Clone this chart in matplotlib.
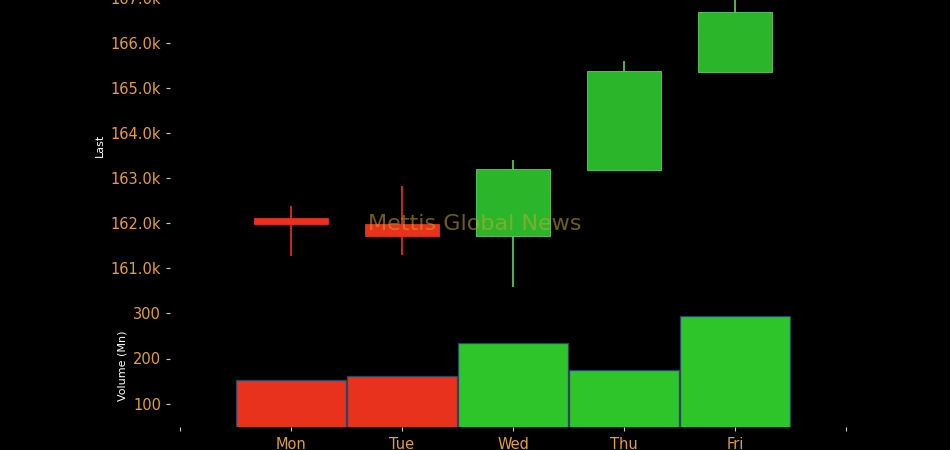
import matplotlib
matplotlib.use("Agg")
import matplotlib.pyplot as plt
from matplotlib.ticker import FuncFormatter, FixedLocator

days = ["Mon", "Tue", "Wed", "Thu", "Fri"]
opens = [162100, 161980, 161700, 163180, 165360]
highs = [162370, 162820, 163400, 165600, 167100]
lows = [161270, 161290, 160580, 163180, 165360]
closes = [161980, 161700, 163200, 165380, 166690]
volumes = [153, 162, 234, 175, 293]

price_ticks = [161000, 162000, 163000, 164000, 165000, 166000, 167000]
volume_ticks = [100, 200, 300]
x_tick_labels = [""] + days + [""]

RED = "#e8321e"
GREEN_BODY = "#2ab52a"
GREEN_VOL = "#2ec52a"
GREEN_WICK = "#5fcf5f"
TICK_COL = "#e0a040"

W, H = 950, 450
fig = plt.figure(figsize=(9.5, 4.5), dpi=100, facecolor="black")

def px_axes(left, top, right, bottom):
    return fig.add_axes([left / W, 1 - bottom / H, (right - left) / W, (bottom - top) / H])

ax_p = px_axes(170, -10, 860, 300)
ax_v = px_axes(170, 305, 860, 427)

xs = list(range(len(days)))
xlim = (-1 - 10 / 111, 5 + 14 / 111)

for ax in (ax_p, ax_v):
    ax.set_facecolor("black")
    for s in ax.spines.values():
        s.set_visible(False)
    ax.set_xlim(*xlim)
    ax.tick_params(axis="y", colors="#cccccc", labelcolor=TICK_COL, labelsize=10.5, length=3, width=0.8)

# price
ax_p.set_ylim(162000 - (300 - 223) / 0.045, 162000 + (223 + 10) / 0.045)
for x, o, h, l, c in zip(xs, opens, highs, lows, closes):
    up = c >= o
    col = GREEN_BODY if up else RED
    wcol = GREEN_WICK if up else RED
    ax_p.vlines(x, l, h, color=wcol, linewidth=1.2, zorder=1)
    ax_p.bar(x, abs(c - o), bottom=min(o, c), width=0.66, color=col,
             edgecolor=GREEN_WICK if up else RED, linewidth=0.6, zorder=2)
ax_p.yaxis.set_major_locator(FixedLocator(price_ticks))
ax_p.yaxis.set_major_formatter(FuncFormatter(lambda v, p: f"{v/1000:.1f}k"))
ax_p.set_xticks([])
ax_p.set_ylabel("Last", color="white", fontsize=8, labelpad=4)

# volume
ax_v.bar(xs, volumes, width=0.985, bottom=0, color=vcols if False else [GREEN_VOL if c >= o else RED for o, c in zip(opens, closes)],
         edgecolor="#2b4560", linewidth=0.9)
ax_v.set_ylim(100 - (427 - 404) / 0.455, 100 + (404 - 305) / 0.455)
ax_v.set_yticks(volume_ticks)
ax_v.set_ylabel("Volume (Mn)", color="white", fontsize=8, labelpad=4)
ax_v.set_xticks(range(-1, len(days) + 1))
ax_v.set_xticklabels(x_tick_labels)
ax_v.tick_params(axis="x", colors="#cccccc", labelcolor=TICK_COL, labelsize=10.5, length=3, width=0.8, pad=4)

fig.text(475 / W, 1 - 224 / H, "Mettis Global News", color="#c8a830", alpha=0.55,
         fontsize=16, ha="center", va="center", zorder=10)

fig.savefig("out.png", dpi=100, facecolor="black")
